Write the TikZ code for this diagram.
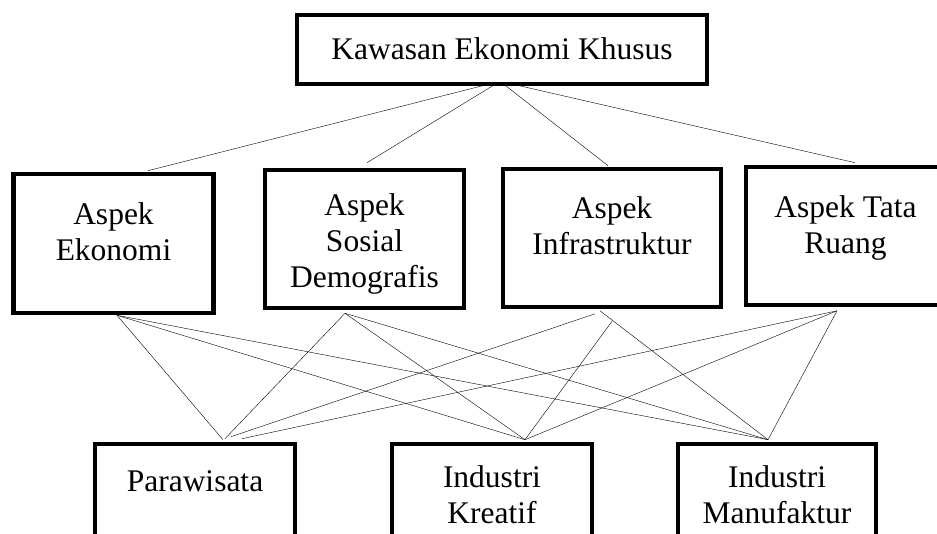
\documentclass[tikz,border=0pt]{standalone}
\usepackage{fontspec}
\setmainfont{Liberation Serif}
\usetikzlibrary{backgrounds}
\tikzset{
    x=1pt, y=-1pt, % one unit is one pixel, y grows downward
    box/.style={draw, line width=4.6pt, fill=white, align=center, inner sep=0pt, anchor=base,
        font=\fontsize{31.5}{36}\selectfont}, % the thick framed boxes, placed by their last baseline
    link/.style={line width=2pt}, % the thin lines between the boxes
}
\begin{document}
\begin{tikzpicture}
\useasboundingbox (0,0) rectangle (937,533);
\clip (0,0) rectangle (937,533);
% top
\node[box, minimum width=410pt, text height=44pt, text depth=25pt] (kek) at (502,59) {Kawasan Ekonomi Khusus};
% aspects
\node[box, minimum width=200pt, text height=86pt, text depth=53pt] (eko) at (113.5,260) {Aspek\\Ekonomi};
\node[box, minimum width=199pt, text height=117pt, text depth=21pt] (sos) at (364.5,287) {Aspek\\Sosial\\Demografis};
\node[box, minimum width=218pt, text height=85pt, text depth=53pt] (inf) at (612,254) {Aspek\\Infrastruktur};
\node[box, minimum width=199pt, text height=86pt, text depth=52pt] (tat) at (845.5,253) {Aspek Tata\\Ruang};
% sectors
\node[box, minimum width=200pt, text height=47pt, text depth=100pt] (par) at (195,491) {Parawisata};
\node[box, minimum width=200pt, text height=79pt, text depth=100pt] (kre) at (492,523) {Industri\\Kreatif};
\node[box, minimum width=198pt, text height=79pt, text depth=100pt] (man) at (777,523) {Industri\\Manufaktur};

\begin{scope}[on background layer, link]
\draw
    ([shift={(-2,-5)}]kek.south) edge ([shift={(34.5,-1)}]eko.north)
    ([shift={(-2,-5)}]kek.south) edge ([shift={(2.5,-5)}]sos.north)
    ([shift={(-2,-5)}]kek.south) edge ([shift={(-4,-1)}]inf.north)
    ([shift={(-2,-5)}]kek.south) edge ([shift={(9.5,-2)}]tat.north);
\draw
    ([shift={(3.5,0)}]eko.south) edge ([shift={(28,-2)}]par.north)
    ([shift={(3.5,0)}]eko.south) edge ([shift={(33,-2)}]kre.north)
    ([shift={(3.5,0)}]eko.south) edge ([shift={(-9,-2)}]man.north)
    ([shift={(-19.5,3)}]sos.south) edge ([shift={(30,-3)}]par.north)
    ([shift={(-19.5,3)}]sos.south) edge ([shift={(33,-2)}]kre.north)
    ([shift={(-19.5,3)}]sos.south) edge ([shift={(-9,-2)}]man.north)
    ([shift={(-17,4.5)}]inf.south) edge ([shift={(36,-5)}]par.north)
    ([shift={(0,12)}]inf.south) edge ([shift={(33,-2)}]kre.north)
    ([shift={(-12,1.5)}]inf.south) edge ([shift={(-9,-2)}]man.north)
    ([shift={(-8.5,3.5)}]tat.south) edge ([shift={(47,-3)}]par.north)
    ([shift={(-8.5,3.5)}]tat.south) edge ([shift={(33,-2)}]kre.north)
    ([shift={(-8.5,3.5)}]tat.south) edge ([shift={(-9,-2)}]man.north);
\end{scope}
\end{tikzpicture}
\end{document}
